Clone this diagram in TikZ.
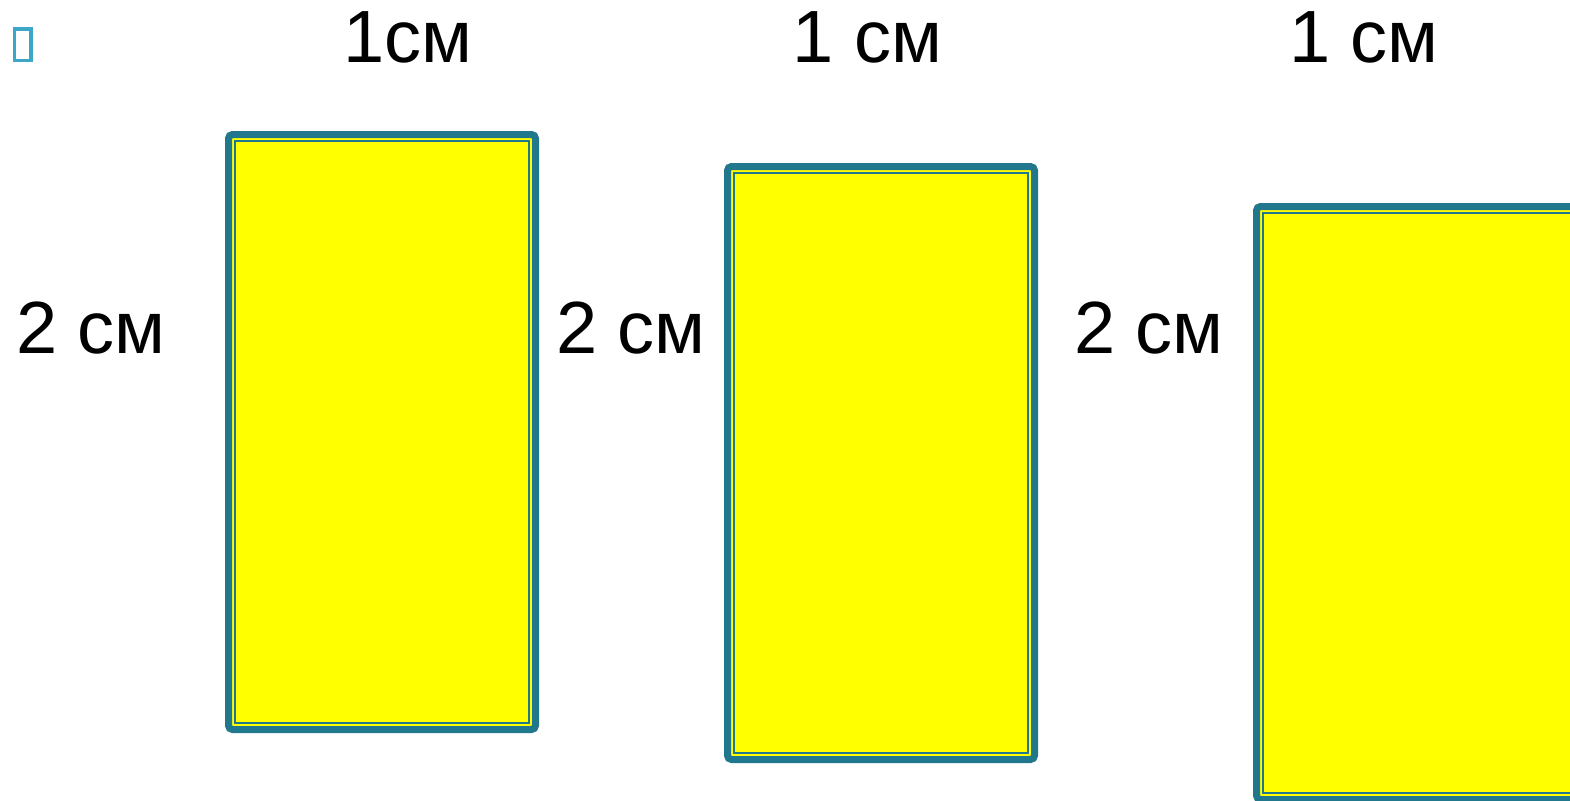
\documentclass[tikz,border=0pt]{standalone}
\usepackage{fontspec}
\setmainfont{Liberation Sans}
\definecolor{bordteal}{RGB}{33,120,140}
\definecolor{icoteal}{RGB}{58,168,198}
\definecolor{fillyel}{RGB}{255,255,0}
\begin{document}
\begin{tikzpicture}[x=0.5pt,y=-0.5pt,
  rectouter/.style={draw=bordteal,line width=3.5pt,fill=fillyel,rounded corners=2pt},
  rectinner/.style={draw=bordteal,line width=0.7pt},
  lbl/.style={font=\fontsize{37}{40}\selectfont,anchor=base,inner sep=0pt}]
\useasboundingbox (0,0) rectangle (1570,800);
\clip (0,0) rectangle (1570,800);
% icon
\draw[icoteal,line width=1.7pt] (14.5,28.8) rectangle (30.8,60.2);
% rectangles
\draw[rectouter] (228.5,134.5) rectangle (535.5,729.5);
\draw[rectinner] (235,141) rectangle (529,723);
\draw[rectouter] (727.5,166.5) rectangle (1034.5,759.5);
\draw[rectinner] (734,173) rectangle (1028,753);
\draw[rectouter] (1256.5,206.5) rectangle (1700,799.5);
\draw[rectinner] (1263,213) rectangle (1700,793);
% labels
\node[lbl] (t1) at (408,62) {1см};
\node[lbl] (t2) at (867.5,62) {1 см};
\node[lbl] (t3) at (1364,62) {1 см};
\node[lbl] (s1) at (91,353) {2 см};
\node[lbl] (s2) at (631,353) {2 см};
\node[lbl] (s3) at (1149,353) {2 см};
\end{tikzpicture}
\end{document}
